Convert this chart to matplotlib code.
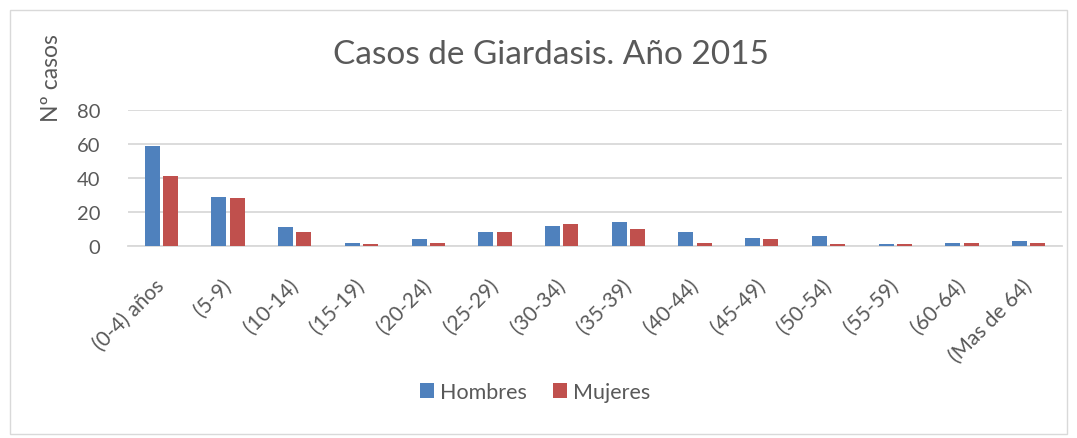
import matplotlib
matplotlib.use("Agg")
import matplotlib.pyplot as plt
import matplotlib.transforms as mtransforms
import numpy as np
from matplotlib.patches import Rectangle

categories = ["(0-4) años", "(5-9)", "(10-14)", "(15-19)", "(20-24)", "(25-29)", "(30-34)",
              "(35-39)", "(40-44)", "(45-49)", "(50-54)", "(55-59)", "(60-64)", "(Mas de 64)"]
hombres = [59, 29, 11, 2, 4, 8, 12, 14, 8, 5, 6, 1, 2, 3]
mujeres = [41, 28, 8, 1, 2, 8, 13, 10, 2, 4, 1, 1, 2, 2]
yticks = [0, 20, 40, 60, 80]

plt.rcParams['font.family'] = ['Lato', 'DejaVu Sans']
txt = '#595959'

fig = plt.figure(figsize=(10.77, 4.39), dpi=100)
fig.patches.append(Rectangle((10/1077, 4/439), 1057/1077, 424/439, transform=fig.transFigure,
                             fill=False, edgecolor='#D9D9D9', lw=1))
ax = fig.add_axes([128/1077, 1-247/439, 934/1077, 136/439])

x = np.arange(len(categories))
w = 0.225
ax.bar(x - w/2 - 0.025, hombres, w, color='#4F81BD', label='Hombres', zorder=3)
ax.bar(x + w/2 + 0.025, mujeres, w, color='#C0504D', label='Mujeres', zorder=3)

ax.set_xlim(-0.5, len(categories) - 0.5)
ax.set_ylim(0, 80)
ax.set_yticks(yticks)
ax.yaxis.grid(True, color='#D9D9D9', lw=1.3, zorder=0)
ax.set_axisbelow(True)
for s in ['top', 'right', 'left']:
    ax.spines[s].set_visible(False)
ax.spines['bottom'].set_color('#D9D9D9')
ax.spines['bottom'].set_linewidth(1.3)
ax.tick_params(axis='both', length=0, colors=txt, labelsize=14.5)
ax.tick_params(axis='y', pad=20)
ax.set_xticks(x)
ax.set_xticklabels(categories, rotation=45, ha='right', rotation_mode='anchor', fontsize=15)
ax.tick_params(axis='x', pad=21)
offset = mtransforms.ScaledTranslation(-7/100, 0, fig.dpi_scale_trans)
for lab in ax.get_xticklabels():
    lab.set_transform(lab.get_transform() + offset)

fig.text(551/1077, 1-55/439, "Casos de Giardasis. Año 2015", ha='center', va='center',
         fontsize=24, color=txt)
fig.text(52/1077, 1-78/439, "Nº casos", ha='center', va='center', rotation=90,
         fontsize=16.5, color=txt)

fig.legend(loc='center', bbox_to_anchor=(535/1077, 1-393/439), ncol=2, frameon=False,
           fontsize=15.5, labelcolor=txt, handlelength=0.65, handleheight=0.65,
           handletextpad=0.3, columnspacing=1.2)

fig.savefig("out.png", dpi=100)
